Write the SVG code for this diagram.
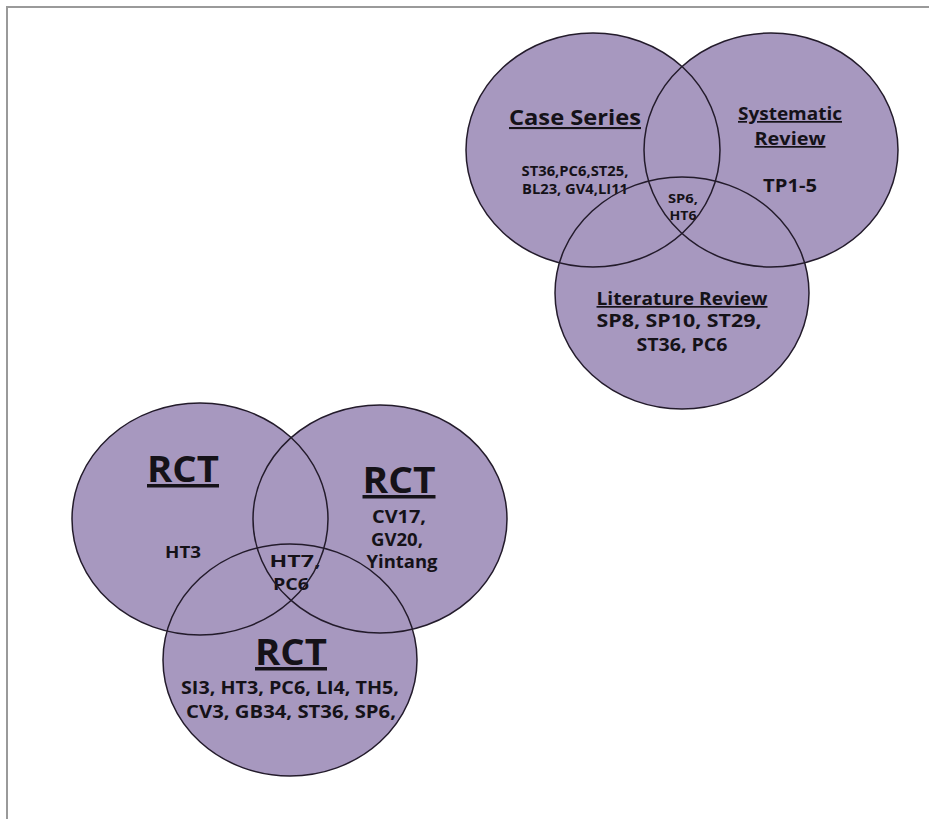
<svg xmlns="http://www.w3.org/2000/svg" width="929" height="819" viewBox="0 0 929 819">
<style>
.fill{fill:#a798bf;stroke:none}
.ring{fill:none;stroke:#231b2b;stroke-width:1.5}
text{font-family:"Open Sans",Lato,"Liberation Sans",sans-serif;font-weight:bold;fill:#151218;text-anchor:middle}
.u{text-decoration:underline}
</style>
<rect x="0" y="0" width="929" height="819" fill="#ffffff"/>
<path d="M7,819 V7 H929" fill="none" stroke="#9a9a9a" stroke-width="2"/>
<g id="fills">
<ellipse class="fill" cx="593" cy="150" rx="127" ry="117"/>
<ellipse class="fill" cx="771" cy="150" rx="127" ry="117"/>
<ellipse class="fill" cx="682" cy="293" rx="127" ry="116"/>
<ellipse class="fill" cx="200" cy="519" rx="128" ry="116"/>
<ellipse class="fill" cx="380" cy="519" rx="127" ry="114"/>
<ellipse class="fill" cx="290" cy="660" rx="127" ry="116"/>
</g>
<g id="center-top">
<text x="683" y="203" font-size="13" textLength="30" lengthAdjust="spacingAndGlyphs">SP6,</text>
<text x="683" y="220" font-size="13" textLength="27" lengthAdjust="spacingAndGlyphs">HT6</text>
</g>
<g id="center-bottom">
<text x="295" y="567" font-size="16" textLength="51" lengthAdjust="spacingAndGlyphs">HT7,</text>
<text x="291" y="590" font-size="16" textLength="36" lengthAdjust="spacingAndGlyphs">PC6</text>
</g>
<g id="case-series">
<ellipse class="ring" cx="593" cy="150" rx="127" ry="117"/>
<text class="u" x="575" y="125" font-size="21" textLength="132" lengthAdjust="spacingAndGlyphs">Case Series</text>
<text x="575" y="176" font-size="14" textLength="107" lengthAdjust="spacingAndGlyphs">ST36,PC6,ST25,</text>
<text x="575" y="194" font-size="14" textLength="106" lengthAdjust="spacingAndGlyphs">BL23, GV4,LI11</text>
</g>
<g id="systematic-review">
<ellipse class="ring" cx="771" cy="150" rx="127" ry="117"/>
<text class="u" x="790" y="120" font-size="17" textLength="104" lengthAdjust="spacingAndGlyphs">Systematic</text>
<text class="u" x="790" y="145" font-size="17" textLength="71" lengthAdjust="spacingAndGlyphs">Review</text>
<text x="790" y="192" font-size="17" textLength="54" lengthAdjust="spacingAndGlyphs">TP1-5</text>
</g>
<g id="literature-review">
<ellipse class="ring" cx="682" cy="293" rx="127" ry="116"/>
<text class="u" x="682" y="305" font-size="17" textLength="171" lengthAdjust="spacingAndGlyphs">Literature Review</text>
<text x="679" y="327" font-size="18" textLength="165" lengthAdjust="spacingAndGlyphs">SP8, SP10, ST29,</text>
<text x="682" y="351" font-size="18" textLength="91" lengthAdjust="spacingAndGlyphs">ST36, PC6</text>
</g>
<g id="rct-left">
<ellipse class="ring" cx="200" cy="519" rx="128" ry="116"/>
<text class="u" x="183" y="482" font-size="35" textLength="72" lengthAdjust="spacingAndGlyphs">RCT</text>
<text x="183" y="558" font-size="16" textLength="36" lengthAdjust="spacingAndGlyphs">HT3</text>
</g>
<g id="rct-right">
<ellipse class="ring" cx="380" cy="519" rx="127" ry="114"/>
<text class="u" x="399" y="493" font-size="35" textLength="73" lengthAdjust="spacingAndGlyphs">RCT</text>
<text x="399" y="523" font-size="17" textLength="54" lengthAdjust="spacingAndGlyphs">CV17,</text>
<text x="397" y="546" font-size="17" textLength="52" lengthAdjust="spacingAndGlyphs">GV20,</text>
<text x="402" y="568" font-size="17" textLength="71" lengthAdjust="spacingAndGlyphs">Yintang</text>
</g>
<g id="rct-bottom">
<ellipse class="ring" cx="290" cy="660" rx="127" ry="116"/>
<text class="u" x="291" y="665" font-size="35" textLength="72" lengthAdjust="spacingAndGlyphs">RCT</text>
<text x="290" y="694" font-size="18" textLength="218" lengthAdjust="spacingAndGlyphs">SI3, HT3, PC6, LI4, TH5,</text>
<text x="291" y="718" font-size="18" textLength="210" lengthAdjust="spacingAndGlyphs">CV3, GB34, ST36, SP6,</text>
</g>
</svg>
